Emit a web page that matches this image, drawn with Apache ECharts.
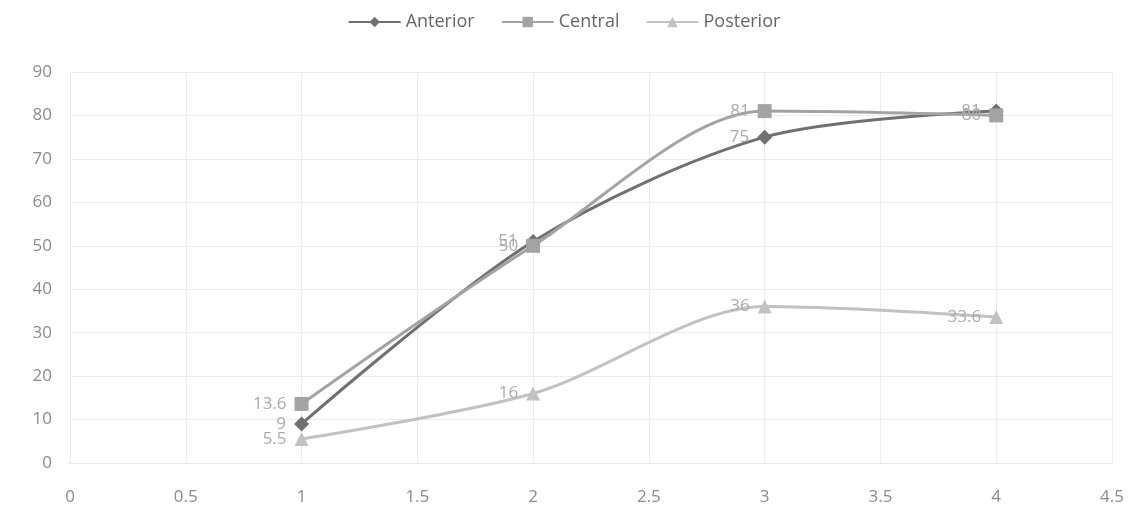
<!DOCTYPE html>
<html><head><meta charset="utf-8">
<script src="https://cdn.jsdelivr.net/npm/echarts@6/dist/echarts.min.js"></script>
<style>html,body{margin:0;padding:0;background:#fff}#c{width:1128px;height:511px}</style>
</head><body><div id="c"></div>
<script>
const xValues = [1, 2, 3, 4];
const anterior = [9, 51, 75, 81];
const central = [13.6, 50, 81, 80];
const posterior = [5.5, 16, 36, 33.6];
const seriesNames = ['Anterior', 'Central', 'Posterior'];

const chart = echarts.init(document.getElementById('c'));
const font = '"Open Sans", "Liberation Sans", sans-serif';
function mk(name, vals, color, symbol, size) {
  return {
    name, type: 'line', smooth: 0.3,
    data: xValues.map((x, i) => [x, vals[i]]),
    symbol, symbolSize: size,
    lineStyle: { color, width: 3 },
    itemStyle: { color },
    label: { show: true, position: 'left', distance: 8, color: '#ababab', fontSize: 17, fontFamily: font },
    z: 3
  };
}
chart.setOption({
  animation: false,
  backgroundColor: '#fff',
  textStyle: { fontFamily: font },
  legend: {
    top: 8, left: 'center', itemWidth: 52, itemHeight: 13, itemGap: 26,
    textStyle: { fontSize: 18, color: '#666', fontFamily: font },
    data: seriesNames
  },
  grid: { left: 70, right: 16, top: 72, bottom: 48, containLabel: false },
  xAxis: {
    type: 'value', min: 0, max: 4.5, interval: 0.5,
    axisLine: { show: true, lineStyle: { color: '#e6e6e6' } },
    axisTick: { show: false },
    splitLine: { show: true, lineStyle: { color: '#ececec' } },
    axisLabel: { color: '#8c8c8c', fontSize: 17, margin: 26, fontFamily: font }
  },
  yAxis: {
    type: 'value', min: 0, max: 90, interval: 10,
    axisLine: { show: false }, axisTick: { show: false },
    splitLine: { show: true, lineStyle: { color: '#ececec' } },
    axisLabel: { color: '#8c8c8c', fontSize: 17, margin: 18, fontFamily: font }
  },
  series: [
    mk('Anterior', anterior, '#707070', 'diamond', 15),
    mk('Central', central, '#a3a3a3', 'rect', 14),
    mk('Posterior', posterior, '#c2c2c2', 'triangle', 14)
  ]
});
</script></body></html>
